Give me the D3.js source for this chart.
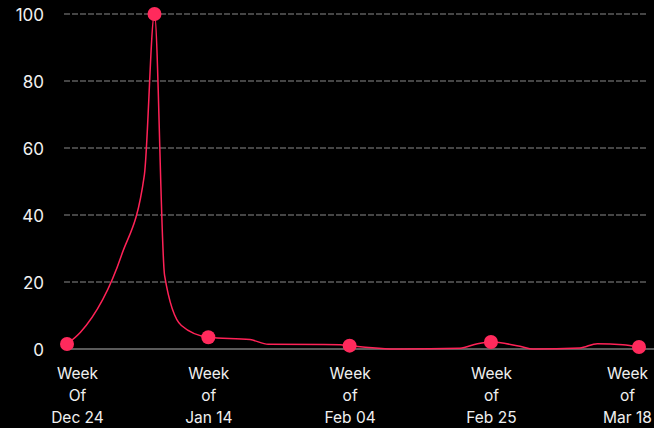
<!DOCTYPE html>
<html>
<head>
<meta charset="utf-8">
<script src="https://cdn.jsdelivr.net/npm/d3@7"></script>
<style>
  html, body { margin: 0; padding: 0; background: #000; }
  svg { display: block; }
</style>
</head>
<body>
<svg id="chart" width="654" height="428"></svg>
<script>
// ---- data ----
// day offsets from the "Week Of Dec 24" point, and interest values (0-100)
const days   = [0, 2, 8.1, 11.5, 13, 14.5, 17, 21, 27.2, 29.9, 40.6, 42, 49.5, 58.4, 61, 63, 67.3, 69.3, 76.2, 78.8, 82.6, 85];
const values = [1.5, 5, 28, 52, 100, 22, 7, 3.5, 2.8, 1.4, 1.3, 1.0, 0, 0.2, 1.6, 2.1, 0.8, 0, 0.3, 1.6, 1.3, 0.6];
// points drawn with a marker
const markerDays = [0, 13, 21, 42, 63, 85];
// x-axis tick positions (days) and their labels
const tickDays = [0, 21, 42, 63, 85];
const tickLabels = [
  ["Week", "Of", "Dec 24"],
  ["Week", "of", "Jan 14"],
  ["Week", "of", "Feb 04"],
  ["Week", "of", "Feb 25"],
  ["Week", "of", "Mar 18"]
];
const yTicks = [0, 20, 40, 60, 80, 100];

// ---- layout ----
const W = 654, H = 428;
const svg = d3.select("#chart");
const font = "Inter, 'Noto Sans', sans-serif";
const lineColor = "#ff2257";

const x = d3.scaleLinear().domain([0, 85]).range([67, 639]);
const y = d3.scaleLinear().domain([0, 100]).range([349, 14]);

const gridLeft = 64, gridRight = 648;

// gridlines
svg.append("g").selectAll("line")
  .data(yTicks.filter(d => d !== 0))
  .join("line")
  .attr("x1", gridLeft).attr("x2", gridRight)
  .attr("y1", d => y(d)).attr("y2", d => y(d))
  .attr("stroke", "#5c5c5c")
  .attr("stroke-width", 1.5)
  .attr("stroke-dasharray", "6,2");

// baseline
svg.append("line")
  .attr("x1", gridLeft).attr("x2", W)
  .attr("y1", y(0)).attr("y2", y(0))
  .attr("stroke", "#5a5a5a")
  .attr("stroke-width", 2);

// y axis labels
const yAxis = d3.axisLeft(y).tickValues(yTicks).tickSize(0).tickPadding(0);
const gy = svg.append("g").attr("transform", "translate(44,0)").call(yAxis);
gy.select(".domain").remove();
gy.selectAll("text")
  .attr("fill", "#f0f0f0")
  .attr("font-family", font)
  .attr("font-size", 17)
  .attr("dy", "0.36em");

// x axis labels (multi-line)
const xAxis = d3.axisBottom(x).tickValues(tickDays).tickSize(0).tickFormat("");
const gx = svg.append("g").attr("transform", `translate(0,${y(0)})`).call(xAxis);
gx.select(".domain").remove();
gx.selectAll(".tick").each(function(d, i) {
  const t = d3.select(this).append("text")
    .attr("fill", "#f0f0f0")
    .attr("font-family", font)
    .attr("font-size", 15.5)
    .attr("text-anchor", "middle");
  // keep outer labels inside the drawing area
  const shift = i === 0 ? 10 : (i === tickDays.length - 1 ? -12 : 0);
  tickLabels[i].forEach((s, k) => {
    t.append("tspan").attr("x", shift).attr("y", 30 + k * 22).text(s);
  });
});

// line
const pts = days.map((d, i) => [d, values[i]]);
const line = d3.line()
  .x(d => x(d[0]))
  .y(d => y(d[1]))
  .curve(d3.curveMonotoneX);
svg.append("path")
  .datum(pts)
  .attr("d", line)
  .attr("fill", "none")
  .attr("stroke", lineColor)
  .attr("stroke-width", 1.5);

// markers
const markerPts = markerDays.map(d => [d, values[days.indexOf(d)]]);
svg.append("g").selectAll("circle")
  .data(markerPts)
  .join("circle")
  .attr("cx", d => x(d[0]))
  .attr("cy", d => y(d[1]))
  .attr("r", 7)
  .attr("fill", "#ff2a5c");
</script>
</body>
</html>
